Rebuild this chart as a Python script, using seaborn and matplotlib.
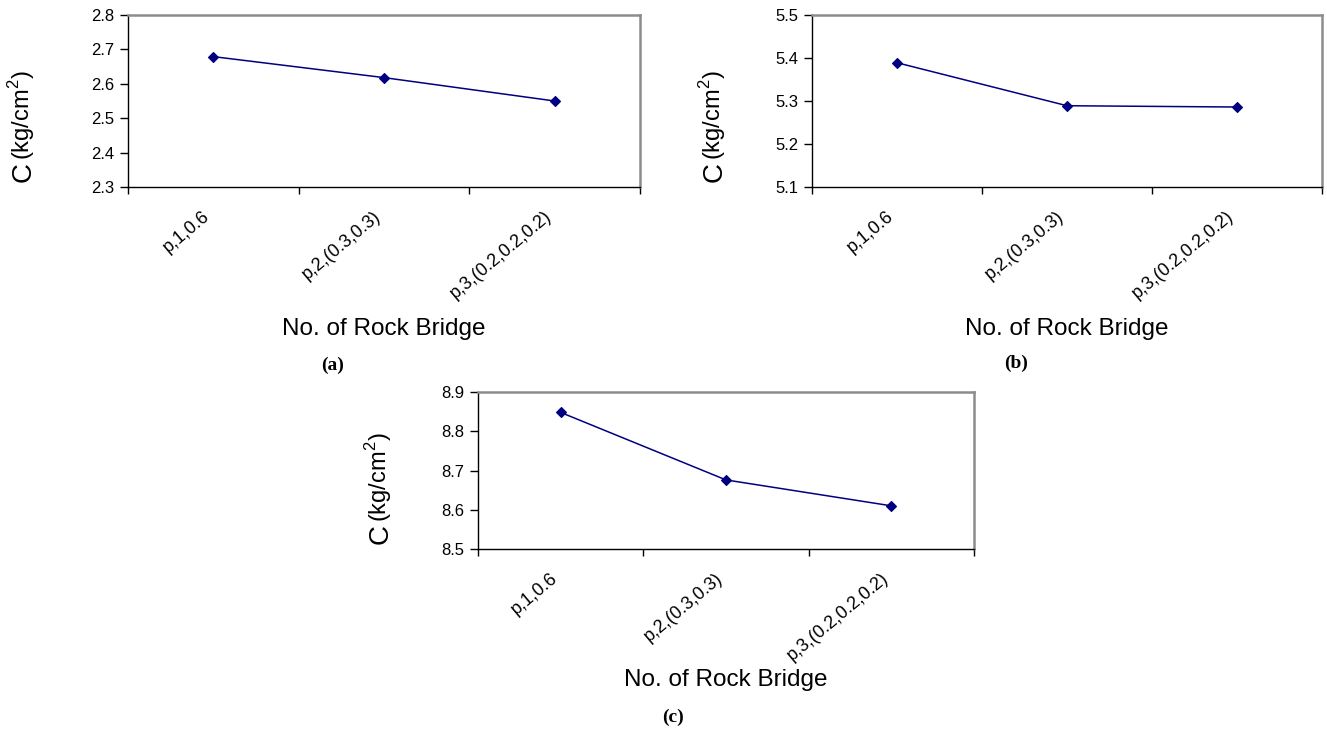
import matplotlib
matplotlib.use('Agg')
import matplotlib.pyplot as plt
import seaborn as sns
import numpy as np

# data
categories = ['p,1,0.6', 'p,2,(0.3,0.3)', 'p,3,(0.2,0.2,0.2)']
c_a = [2.679, 2.618, 2.550]
c_b = [5.389, 5.289, 5.286]
c_c = [8.848, 8.676, 8.610]
ylim_a = (2.3, 2.8)
ylim_b = (5.1, 5.5)
ylim_c = (8.5, 8.9)
xlabel = 'No. of Rock Bridge'
panel_tags = ['(a)', '(b)', '(c)']

sns.set_style('white')
plt.rcParams['font.family'] = ['Liberation Sans', 'DejaVu Sans']
plt.rcParams['mathtext.fontset'] = 'custom'
plt.rcParams['mathtext.rm'] = 'Liberation Sans'
for key in ['text.color', 'axes.labelcolor', 'xtick.color', 'ytick.color']:
    plt.rcParams[key] = 'black'

W, H = 1327, 730
fig = plt.figure(figsize=(W / 100, H / 100), dpi=100)
fig.patch.set_facecolor('white')

NAVY = '#000080'


def add_panel(box, values, ylim, tag, ylab_off, xlab_off, tag_off):
    l, t, r, b = box
    ax = fig.add_axes([l / W, 1 - b / H, (r - l) / W, (b - t) / H])
    sns.pointplot(x=categories, y=values, color=NAVY, markers='D',
                  linestyles='-', errorbar=None, markersize=5.5,
                  linewidth=1.1, ax=ax)
    ax.set_xlim(-0.5, len(categories) - 0.5)
    ax.set_ylim(*ylim)
    ax.set_yticks(np.round(np.arange(ylim[0], ylim[1] + 0.01, 0.1), 1))
    ax.set_yticklabels([f'{v:.1f}' for v in ax.get_yticks()], fontsize=12)

    # Excel-style: tick marks between categories, labels at centres
    ax.set_xticks(np.arange(-0.5, len(categories), 1.0),
                  labels=[''] * (len(categories) + 1))
    ax.set_xticks(np.arange(len(categories)), labels=categories, minor=True)
    ax.tick_params(axis='x', which='major', direction='out', length=5,
                   width=1, color='black', bottom=True)
    ax.tick_params(axis='x', which='minor', length=0, pad=15, labelsize=13,
                   labelrotation=40)
    for lbl in ax.get_xticklabels(minor=True):
        lbl.set_ha('right')
        lbl.set_va('top')
    ax.tick_params(axis='y', direction='out', length=6, width=1,
                   color='black', left=True, pad=4)
    ax.set_xlabel('')
    ax.set_ylabel('')
    ax.grid(False)

    for side in ['left', 'bottom']:
        ax.spines[side].set_color('black')
        ax.spines[side].set_linewidth(1.0)
    for side in ['top', 'right']:
        ax.spines[side].set_color('#8c8c8c')
        ax.spines[side].set_linewidth(1.8)

    # y label: big "C" followed by smaller unit
    c_txt = ax.annotate('C', xy=(0, 0), xycoords='axes fraction',
                        xytext=(-ylab_off, 5), textcoords='offset pixels',
                        rotation=90, ha='right', va='bottom', fontsize=20,
                        annotation_clip=False)
    ax.annotate('(kg/cm$^2$)', xy=(1, 1), xycoords=c_txt,
                xytext=(0, 2), textcoords='offset pixels',
                rotation=90, ha='right', va='bottom', fontsize=17,
                annotation_clip=False)

    ax.annotate(xlabel, xy=(0.5, 0), xycoords='axes fraction',
                xytext=(0, -xlab_off), textcoords='offset pixels',
                ha='center', va='center', fontsize=17.5, annotation_clip=False)
    ax.annotate(tag, xy=(0.5, 0), xycoords='axes fraction',
                xytext=tag_off, textcoords='offset pixels',
                ha='center', va='center', fontsize=14, fontweight='bold',
                family='Liberation Serif', annotation_clip=False)
    return ax


add_panel((128, 15, 640, 187), c_a, ylim_a, panel_tags[0], 91, 142, (-51, -178))
add_panel((812, 15, 1322, 187), c_b, ylim_b, panel_tags[1], 84, 142, (-51, -176))
add_panel((478, 392, 974, 549), c_c, ylim_c, panel_tags[2], 84, 131, (-53, -168))

fig.savefig('out.png', dpi=100, facecolor='white')
